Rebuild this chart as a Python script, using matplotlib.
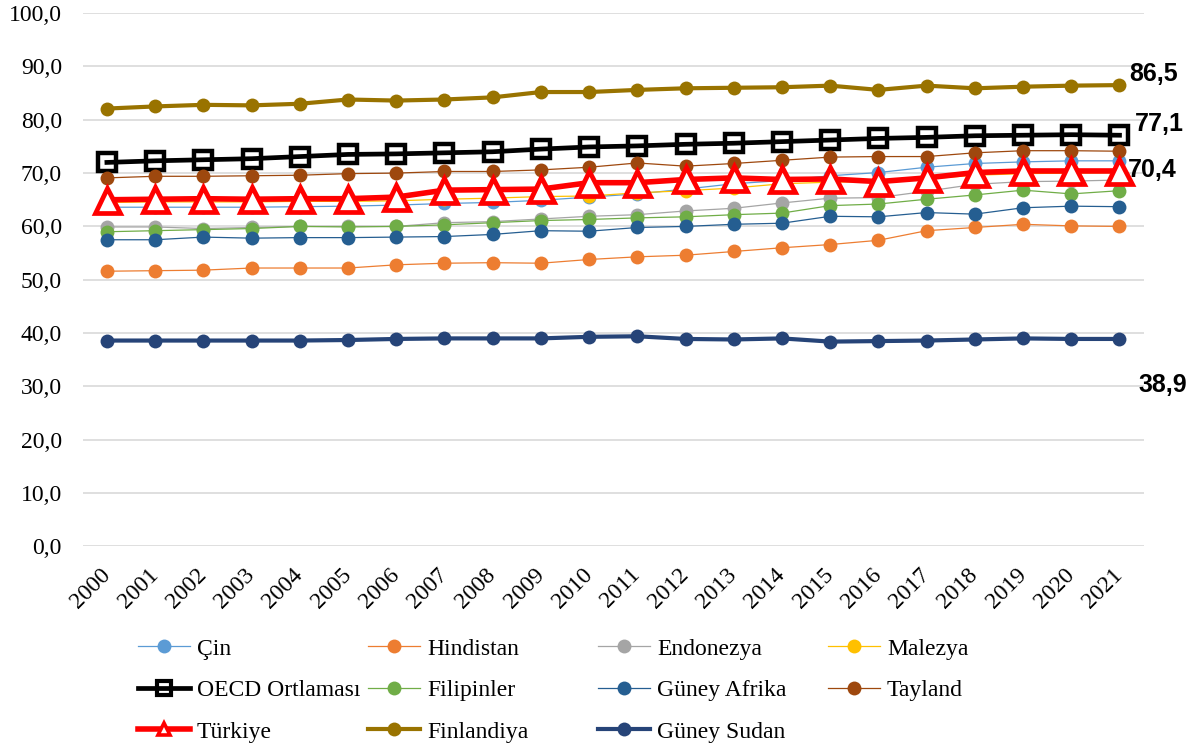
import matplotlib
matplotlib.use("Agg")
import matplotlib.pyplot as plt
from matplotlib.lines import Line2D

years = list(range(2000, 2022))

cin = [63.6, 63.6, 63.6, 63.6, 63.7, 63.8, 64.0, 64.3, 64.5, 64.9, 65.5, 66.1, 67.0, 68.0, 68.6, 69.5,
       70.1, 71.1, 71.8, 72.1, 72.3, 72.3]
hindistan = [51.6, 51.7, 51.8, 52.2, 52.2, 52.2, 52.8, 53.1, 53.2, 53.1, 53.8, 54.3, 54.6, 55.3, 56.0, 56.6,
             57.4, 59.2, 59.8, 60.4, 60.1, 60.0]
endonezya = [59.9, 59.9, 59.6, 59.8, 60.0, 60.0, 60.0, 60.7, 60.9, 61.4, 61.9, 62.2, 62.9, 63.4, 64.4, 65.3,
             65.4, 66.6, 67.9, 68.4, 68.5, 68.7]
malezya = [64.5, 64.6, 64.6, 64.6, 64.7, 64.7, 64.8, 65.1, 65.3, 65.6, 65.7, 66.3, 66.7, 67.2, 68.0, 68.3,
           68.4, 68.9, 69.6, 69.9, 70.0, 70.1]
oecd = [72.0, 72.3, 72.5, 72.7, 73.1, 73.5, 73.6, 73.8, 74.0, 74.5, 74.9, 75.1, 75.4, 75.6, 75.9, 76.2,
        76.5, 76.7, 77.0, 77.1, 77.2, 77.1]
filipinler = [59.0, 59.2, 59.4, 59.6, 60.0, 59.9, 60.0, 60.3, 60.7, 61.1, 61.3, 61.6, 61.8, 62.2, 62.5, 63.9,
              64.2, 65.1, 65.9, 66.8, 66.1, 66.7]
guney_afrika = [57.5, 57.5, 58.0, 57.8, 57.9, 57.9, 58.0, 58.1, 58.5, 59.2, 59.1, 59.8, 60.0, 60.4, 60.6, 61.9,
                61.8, 62.6, 62.3, 63.5, 63.8, 63.7]
tayland = [69.1, 69.4, 69.4, 69.5, 69.6, 69.9, 70.0, 70.3, 70.3, 70.6, 71.1, 71.9, 71.3, 71.8, 72.4, 73.0,
           73.1, 73.1, 73.8, 74.2, 74.2, 74.1]
turkiye = [65.0, 65.1, 65.2, 65.1, 65.2, 65.2, 65.5, 66.8, 66.9, 67.0, 68.2, 68.2, 68.8, 69.1, 68.8, 68.9,
           68.4, 69.1, 70.1, 70.4, 70.4, 70.4]
finlandiya = [82.1, 82.5, 82.8, 82.7, 83.0, 83.8, 83.6, 83.8, 84.2, 85.2, 85.2, 85.6, 85.9, 86.0, 86.1, 86.4,
              85.6, 86.4, 85.9, 86.2, 86.4, 86.5]
guney_sudan = [38.6, 38.6, 38.6, 38.6, 38.6, 38.7, 38.9, 39.0, 39.0, 39.0, 39.3, 39.4, 38.9, 38.8, 39.0, 38.4,
               38.5, 38.6, 38.8, 39.0, 38.9, 38.9]

yticks = [0, 10, 20, 30, 40, 50, 60, 70, 80, 90, 100]
ytick_labels = ["0,0", "10,0", "20,0", "30,0", "40,0", "50,0", "60,0", "70,0", "80,0", "90,0", "100,0"]

end_labels = [("86,5", finlandiya[-1], (7, 8)), ("77,1", oecd[-1], (11, 8)),
              ("70,4", turkiye[-1], (6, 1)), ("38,9", guney_sudan[-1], (14, -33))]

serif = ["Liberation Serif", "DejaVu Serif"]
plt.rcParams["font.family"] = serif

fig = plt.figure(figsize=(12, 7.49), dpi=100)
ax = fig.add_axes([0.069, 0.2705, 0.884, 0.712])

thin = dict(lw=0.9, marker="o", ms=10, mew=0)
series = [
    ("Çin", cin, dict(color="#5B9BD5", **thin)),
    ("Hindistan", hindistan, dict(color="#ED7D31", **thin)),
    ("Endonezya", endonezya, dict(color="#A5A5A5", **thin)),
    ("Malezya", malezya, dict(color="#FFC000", **thin)),
    ("OECD Ortlaması", oecd, dict(color="black", lw=3.4, marker="s", ms=13, mew=3.2,
                                   mfc="none", mec="black")),
    ("Filipinler", filipinler, dict(color="#70AD47", **thin)),
    ("Güney Afrika", guney_afrika, dict(color="#255E91", **thin)),
    ("Tayland", tayland, dict(color="#9E480E", **thin)),
    ("Türkiye", turkiye, dict(color="#FF0000", lw=4.0, marker="^", ms=18, mew=3.4,
                              mfc="white", mec="#FF0000")),
    ("Finlandiya", finlandiya, dict(color="#997300", lw=3.0, marker="o", ms=10, mew=0)),
    ("Güney Sudan", guney_sudan, dict(color="#264478", lw=3.0, marker="o", ms=10, mew=0)),
]

legend_overrides = {
    "OECD Ortlaması": dict(ms=10, mew=3.0),
    "Türkiye": dict(ms=9, mew=2.6),
}

handles = {}
for i, (name, vals, kw) in enumerate(series):
    ax.plot(years, vals, label=name, zorder=3 + i, clip_on=False, **kw)
    hk = dict(kw)
    hk.update(legend_overrides.get(name, {}))
    handles[name] = Line2D([], [], **hk)

ax.set_xlim(1999.5, 2021.5)
ax.set_ylim(0, 100)
ax.set_yticks(yticks)
ax.set_yticklabels(ytick_labels)
ax.set_xticks(years)
ax.set_xticklabels([str(y) for y in years], rotation=45, ha="right", va="center",
                   rotation_mode="anchor")
ax.tick_params(axis="both", length=0, labelsize=17)
ax.tick_params(axis="y", pad=15)
ax.tick_params(axis="x", pad=18)
for s in ax.spines.values():
    s.set_visible(False)
ax.grid(axis="y", color="#D9D9D9", lw=1.2)
ax.set_axisbelow(True)

for txt, v, off in end_labels:
    ax.annotate(txt, xy=(2021, v), xytext=off, textcoords="offset points",
                ha="left", va="center", fontsize=18, fontweight="bold",
                family=["Liberation Sans", "DejaVu Sans"], annotation_clip=False, zorder=20)

columns = [["Çin", "OECD Ortlaması", "Türkiye"],
           ["Hindistan", "Filipinler", "Finlandiya"],
           ["Endonezya", "Güney Afrika", "Güney Sudan"],
           ["Malezya", "Tayland"]]
col_x = [138, 368, 598, 828]
for cx, names in zip(col_x, columns):
    fig.legend([handles[n] for n in names], names,
               loc="upper left", bbox_to_anchor=(cx / 1200, 1 - 638 / 749),
               frameon=False, fontsize=17, handlelength=2.2, handletextpad=0.3,
               labelspacing=0.85, borderpad=0, borderaxespad=0)

fig.savefig("out.png", dpi=100)
